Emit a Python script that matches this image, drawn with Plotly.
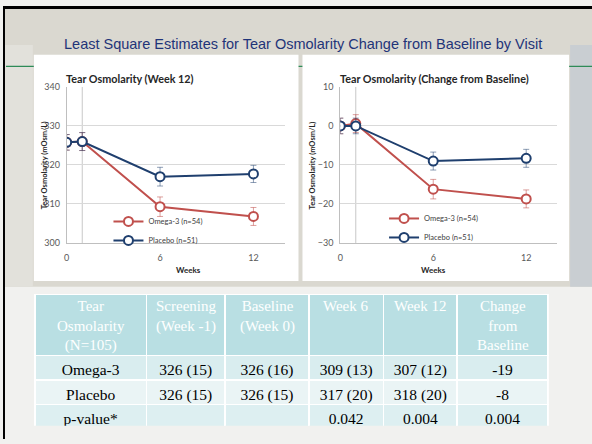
import plotly.graph_objects as go

W, H = 592, 444

weeks = [0, 1, 6, 12]
omega_abs = [325.8, 326.0, 309.3, 306.8]
omega_abs_err = [2.0, 2.3, 2.5, 2.3]
placebo_abs = [325.8, 326.0, 317.0, 317.7]
placebo_abs_err = [2.0, 2.3, 2.4, 2.2]

omega_chg = [0.0, 0.6, -16.2, -18.7]
omega_chg_err = [2.0, 2.3, 2.5, 2.3]
placebo_chg = [0.0, 0.0, -9.0, -8.3]
placebo_chg_err = [2.0, 2.0, 2.3, 2.3]

omega_name = "Omega-3 (n=54)"
placebo_name = "Placebo (n=51)"

table_header = ["Tear<br>Osmolarity<br>(N=105)", "Screening<br>(Week -1)", "Baseline<br>(Week 0)",
                "Week 6", "Week 12", "Change<br>from<br>Baseline"]
row_labels = ["Omega-3", "Placebo", "p-value*"]
col_screening = ["326 (15)", "326 (15)", ""]
col_baseline = ["326 (16)", "326 (15)", ""]
col_week6 = ["309 (13)", "317 (20)", "0.042"]
col_week12 = ["307 (12)", "318 (20)", "0.004"]
col_change = ["-19", "-8", "0.004"]
col_widths = [112, 79, 84, 75, 74, 91]

RED = "#C0504D"
BLUE = "#1F3F6E"
RED_ERR = "rgba(192,80,77,0.55)"
BLUE_ERR = "rgba(31,63,110,0.5)"
SERIF = "Liberation Serif, Times New Roman, serif"


def px_x(v):
    return v / W


def px_y(v):
    return 1 - v / H


def nowrap(col):
    # keep each cell on one line (plotly tables wrap at spaces)
    return [s.replace(" ", "\u00a0") for s in col]


fig = go.Figure()


def add_series(y, err, name, color, errcolor, xa, ya, legend):
    fig.add_trace(go.Scatter(
        x=weeks, y=y, name=name, mode="lines+markers",
        line=dict(color=color, width=2),
        marker=dict(symbol="circle", size=9, color="white", line=dict(color=color, width=2)),
        error_y=dict(type="data", array=err, color=errcolor, thickness=1, width=3),
        xaxis=xa, yaxis=ya, legend=legend, showlegend=True,
    ))


add_series(omega_abs, omega_abs_err, omega_name, RED, RED_ERR, "x", "y", "legend")
add_series(placebo_abs, placebo_abs_err, placebo_name, BLUE, BLUE_ERR, "x", "y", "legend")
add_series(omega_chg, omega_chg_err, omega_name, RED, RED_ERR, "x2", "y2", "legend2")
add_series(placebo_chg, placebo_chg_err, placebo_name, BLUE, BLUE_ERR, "x2", "y2", "legend2")

TBL_L, TBL_R, TBL_T, TBL_B = 32, 548, 296, 431
fig.add_trace(go.Table(
    domain=dict(x=[px_x(TBL_L), px_x(TBL_R)], y=[px_y(TBL_B), px_y(TBL_T)]),
    columnwidth=col_widths,
    header=dict(
        values=[""] * len(col_widths),
        fill_color="#B9DFE3",
        line=dict(color="white", width=1.5),
        font=dict(family=SERIF, size=15, color="white"),
        align="center", height=61,
    ),
    cells=dict(
        values=[nowrap(c) for c in [row_labels, col_screening, col_baseline, col_week6,
                                    col_week12, col_change]],
        fill_color=[["#D9EDEF", "#EAF4F5", "#DDEFF1"]] * 6,
        line=dict(color="white", width=1.5),
        font=dict(family=SERIF, size=15.5, color="black"),
        align="center", height=24.5,
    ),
))

tickfont = dict(family="Lato, Open Sans, sans-serif", size=9, color="#595959")
xcommon = dict(showgrid=False, zeroline=False, showline=True, linecolor="#BFBFBF", linewidth=1,
               ticks="outside", tickcolor="rgba(0,0,0,0)", tickfont=tickfont, fixedrange=True,
               range=[0, 14], tickvals=[0, 6, 12], ticklen=6)
ycommon = dict(showgrid=True, gridcolor="#D9D9D9", gridwidth=1, zeroline=False, showline=True,
               linecolor="#BFBFBF", linewidth=1, ticks="outside", tickcolor="rgba(0,0,0,0)",
               tickfont=tickfont, fixedrange=True, ticklen=4)
legfont = dict(family="Lato, Open Sans, sans-serif", size=7.5, color="#404040")

fig.update_layout(
    width=W, height=H, margin=dict(l=0, r=0, t=0, b=0),
    paper_bgcolor="#F1F1EF", plot_bgcolor="white",
    xaxis=dict(domain=[px_x(64), px_x(283)], anchor="y", **xcommon),
    yaxis=dict(domain=[px_y(243), px_y(83)], range=[300, 340], tickvals=[300, 310, 320, 330, 340],
               anchor="x", **ycommon),
    xaxis2=dict(domain=[px_x(339), px_x(557)], anchor="y2", **xcommon),
    yaxis2=dict(domain=[px_y(243), px_y(83)], range=[-30, 10], tickvals=[-30, -20, -10, 0, 10],
                anchor="x2", **ycommon),
    legend=dict(x=px_x(106), y=px_y(206), xanchor="left", yanchor="top", bgcolor="rgba(0,0,0,0)",
                font=legfont, itemwidth=30, tracegroupgap=0),
    legend2=dict(x=px_x(383), y=px_y(203), xanchor="left", yanchor="top", bgcolor="rgba(0,0,0,0)",
                 font=legfont, itemwidth=30, tracegroupgap=0),
)

shapes = [
    dict(type="rect", xref="paper", yref="paper", x0=0, x1=1, y0=px_y(288), y1=1,
         fillcolor="#DAD8D0", line_width=0, layer="below"),
    dict(type="rect", xref="paper", yref="paper", x0=0, x1=px_x(30), y0=px_y(288), y1=px_y(40),
         fillcolor="#E2E1DB", line_width=0, layer="below"),
    dict(type="rect", xref="paper", yref="paper", x0=px_x(570), x1=1, y0=px_y(288), y1=px_y(40),
         fillcolor="#C9CED2", line_width=0, layer="below"),
    dict(type="rect", xref="paper", yref="paper", x0=0, x1=1, y0=px_y(3), y1=1,
         fillcolor="black", line_width=0, layer="below"),
    dict(type="rect", xref="paper", yref="paper", x0=0, x1=px_x(2), y0=0, y1=1,
         fillcolor="black", line_width=0, layer="below"),
    dict(type="line", xref="paper", yref="paper", x0=px_x(3), x1=1, y0=px_y(62), y1=px_y(62),
         line=dict(color="#2E8B57", width=1.2), layer="below"),
    dict(type="rect", xref="paper", yref="paper", x0=px_x(31), x1=px_x(297), y0=px_y(282), y1=px_y(50),
         fillcolor="white", line_width=0, layer="below"),
    dict(type="rect", xref="paper", yref="paper", x0=px_x(301), x1=px_x(569), y0=px_y(282), y1=px_y(50),
         fillcolor="white", line_width=0, layer="below"),
    dict(type="line", xref="x", yref="y domain", x0=1, x1=1, y0=0, y1=1,
         line=dict(color="#C8C8C8", width=1), layer="below"),
    dict(type="line", xref="x2", yref="y2 domain", x0=1, x1=1, y0=0, y1=1,
         line=dict(color="#C8C8C8", width=1), layer="below"),
]
fig.update_layout(shapes=shapes)

ann_font = dict(family="Lato, Open Sans, sans-serif", color="#262626")
annotations = [
    dict(text="Least Square Estimates for Tear Osmolarity Change from Baseline by Visit",
         x=px_x(302), y=px_y(29), xref="paper", yref="paper", showarrow=False,
         font=dict(family="Liberation Sans, Arial, sans-serif", size=14.5, color="#1F3479")),
    dict(text="<b>Tear Osmolarity (Week 12)</b>", x=px_x(61), y=px_y(66), xref="paper", yref="paper",
         xanchor="left", showarrow=False, font=dict(size=10.8, **ann_font)),
    dict(text="<b>Tear Osmolarity (Change from Baseline)</b>", x=px_x(337), y=px_y(66), xref="paper",
         yref="paper", xanchor="left", showarrow=False, font=dict(size=10.8, **ann_font)),
    dict(text="<b>Tear Osmolarity (mOsm/L)</b>", x=px_x(36), y=px_y(163), xref="paper", yref="paper",
         textangle=-90, showarrow=False, font=dict(size=7.5, **ann_font)),
    dict(text="<b>Tear Osmolarity (mOsm/L)</b>", x=px_x(312), y=px_y(163), xref="paper", yref="paper",
         textangle=-90, showarrow=False, font=dict(size=7.5, **ann_font)),
    dict(text="<b>Weeks</b>", x=px_x(172), y=px_y(271), xref="paper", yref="paper",
         showarrow=False, font=dict(size=8, **ann_font)),
    dict(text="<b>Weeks</b>", x=px_x(447), y=px_y(271), xref="paper", yref="paper",
         showarrow=False, font=dict(size=8, **ann_font)),
]

# header labels of the table, centred over each column
total_w = sum(col_widths)
left = TBL_L
for label, cw in zip(table_header, col_widths):
    w_px = cw / total_w * (TBL_R - TBL_L)
    annotations.append(dict(
        text=label, x=px_x(left + w_px / 2), y=px_y(TBL_T + 1), xref="paper", yref="paper",
        xanchor="center", yanchor="top", align="center", showarrow=False,
        font=dict(family=SERIF, size=15, color="white"),
    ))
    left += w_px

fig.update_layout(annotations=annotations)

fig.write_html("out.html", config={"displayModeBar": False},
               post_script="document.body.style.margin='0px';")
